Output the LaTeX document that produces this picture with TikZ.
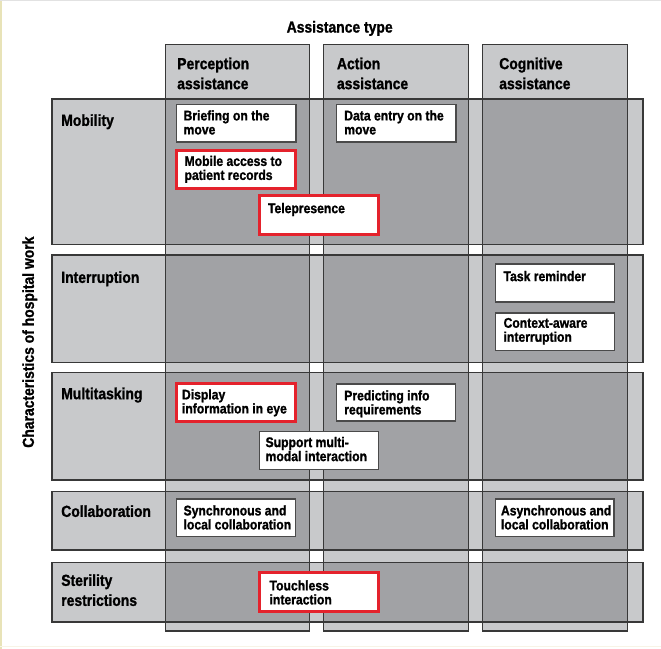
\documentclass[tikz,border=0pt]{standalone}
\usepackage{fontspec}
\newfontfamily\cond{Liberation Sans}[FakeStretch=0.87, BoldFeatures={FakeBold=1.2}]
\usetikzlibrary{fit}
\definecolor{lgray}{HTML}{C8C9CB}
\definecolor{dgray}{HTML}{A1A2A5}
\definecolor{gline}{HTML}{383838}
\definecolor{bline}{HTML}{4A4A4A}
\definecolor{rline}{HTML}{E4222C}
\definecolor{edgey}{HTML}{E8E3B8}
\definecolor{edgeg}{HTML}{E2E2E2}
\definecolor{edgec}{HTML}{F8F4E6}
\begin{document}
\begin{tikzpicture}[x=0.75pt,y=-0.75pt,
  txt/.style={inner sep=0pt, anchor=north west, align=left, text=black,
    font=\cond\bfseries\fontsize{10.5}{10.5}\selectfont},
  hdr/.style={inner sep=0pt, anchor=north west, align=left, text=black,
    font=\cond\bfseries\fontsize{12}{15}\selectfont},
  wbox/.style={draw=bline, line width=1.1pt, fill=white, inner sep=0pt},
  rbox/.style={draw=rline, line width=2.2pt, fill=white, inner sep=0pt},
  grid/.style={draw=gline, line width=0.8pt}]
\useasboundingbox (0,0) rectangle (661,649);
\fill[white] (0,0) rectangle (661,649);
% page edges
\draw[edgey, line width=1.2pt] (0.8,0) -- (0.8,649);
\draw[edgeg, line width=1pt] (0,0.7) -- (661,0.7);
\draw[edgec, line width=1pt] (0,646.5) -- (661,646.5);
% title
\node[hdr, anchor=north] (title) at (339.7,20.7) {Assistance type};
\node[hdr, rotate=90, anchor=north west] (side) at (22,448) {Characteristics of hospital work};
% fills
\foreach \xa/\xb in {165.3/309.3,323.3/468.7,482.3/627.7}
  \fill[lgray] (\xa,44.3) rectangle (\xb,631);
\foreach \ya/\yb in {99/244.3,255/362.3,372.7/480,491.7/550,562.7/622}
  \fill[lgray] (52,\ya) rectangle (643,\yb);
\foreach \xa/\xb in {165.3/309.3,323.3/468.7,482.3/627.7}
  \foreach \ya/\yb in {99/244.3,255/362.3,372.7/480,491.7/550,562.7/622}
    \fill[dgray] (\xa,\ya) rectangle (\xb,\yb);
% borders
\foreach \xa/\xb in {165.3/309.3,323.3/468.7,482.3/627.7}
  \draw[grid] (\xa,44.3) rectangle (\xb,631);
\foreach \ya/\yb in {99/244.3,255/362.3,372.7/480,491.7/550,562.7/622}
  \draw[grid] (52,\ya) rectangle (643,\yb);
% column headers
\node[hdr] (hP) at (177,57.3) {Perception\\assistance};
\node[hdr] (hA) at (336.7,57.3) {Action\\assistance};
\node[hdr] (hC) at (499,57.3) {Cognitive\\assistance};
% row labels
\node[hdr] (rMob) at (61,114) {Mobility};
\node[hdr] (rInt) at (61,271) {Interruption};
\node[hdr] (rMul) at (61,387.3) {Multitasking};
\node[hdr] (rCol) at (61,505) {Collaboration};
\node[hdr] (rSte) at (61,574) {Sterility\\restrictions};
% boxes
\node[wbox, fit={(176.6,104.6)(296.2,142.2)}] (brief) {};
\node[txt] (brief-t) at (183.3,110) {Briefing on the\\move};
\node[wbox, fit={(336.6,104.6)(456,142.2)}] (data) {};
\node[txt] (data-t) at (344,110) {Data entry on the\\move};
\node[rbox, fit={(176.5,150.8)(295.8,188.5)}] (mobile) {};
\node[txt] (mobile-t) at (184.3,155.5) {Mobile access to\\patient records};
\node[rbox, fit={(259.8,195.8)(378.5,234.5)}] (tele) {};
\node[txt] (tele-t) at (267.7,202.7) {Telepresence};
\node[wbox, fit={(495.3,263.9)(614.7,302.1)}] (task) {};
\node[txt] (task-t) at (503.3,270.7) {Task reminder};
\node[wbox, fit={(495.3,312.9)(614.7,350.7)}] (ctx) {};
\node[txt] (ctx-t) at (503.3,317.7) {Context-aware\\interruption};
\node[rbox, fit={(176.5,383.8)(295.8,421.2)}] (disp) {};
\node[txt] (disp-t) at (181.7,389) {Display\\information in eye};
\node[wbox, fit={(336.6,383.9)(455.4,421.1)}] (pred) {};
\node[txt] (pred-t) at (344,390) {Predicting info\\requirements};
\node[wbox, fit={(259.6,431.6)(378.4,469.4)}] (supp) {};
\node[txt] (supp-t) at (265.3,436.7) {Support multi-\\modal interaction};
\node[wbox, fit={(176.6,498.9)(295.4,536.7)}] (sync) {};
\node[txt] (sync-t) at (183.3,505) {Synchronous and\\local collaboration};
\node[wbox, fit={(495.3,498.9)(614.1,536.7)}] (async) {};
\node[txt] (async-t) at (500.7,505) {Asynchronous and\\local collaboration};
\node[rbox, fit={(259.2,572.2)(378.5,611.2)}] (touch) {};
\node[txt] (touch-t) at (269.3,580) {Touchless\\interaction};
\end{tikzpicture}
\end{document}
